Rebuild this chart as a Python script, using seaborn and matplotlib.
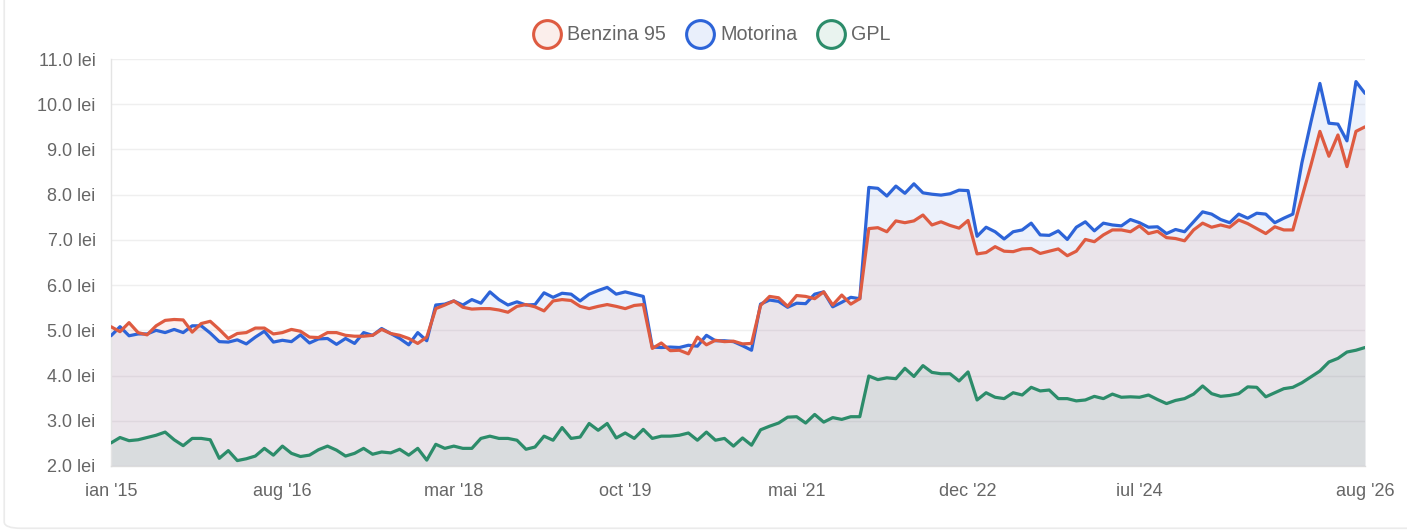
import numpy as np
import pandas as pd
import matplotlib
matplotlib.use("Agg")
import matplotlib.pyplot as plt
from matplotlib.lines import Line2D
from matplotlib.colors import to_rgba
from matplotlib.patches import FancyBboxPatch
import seaborn as sns

# luni in romana, pentru etichetele axei x
luni = ['ian', 'feb', 'mar', 'apr', 'mai', 'iun', 'iul', 'aug', 'sep', 'oct', 'noi', 'dec']

# pret mediu lunar (lei / litru), ian 2015 - aug 2026
benzina = [5.08, 4.97, 5.17, 4.95, 4.90, 5.10, 5.22, 5.24, 5.23, 4.96, 5.15, 5.20, 5.02, 4.82, 4.93, 4.95, 5.05, 5.05, 4.92, 4.95, 5.02, 4.98, 4.85, 4.84,
           4.95, 4.95, 4.89, 4.87, 4.87, 4.89, 5.02, 4.93, 4.89, 4.82, 4.71, 4.85, 5.48, 5.56, 5.65, 5.51, 5.47, 5.48, 5.48, 5.45, 5.40, 5.53, 5.57,
           5.52, 5.43, 5.65, 5.68, 5.66, 5.53, 5.48, 5.53, 5.57, 5.53, 5.48, 5.55, 5.57, 4.60, 4.72, 4.55, 4.56, 4.48, 4.85, 4.68, 4.78, 4.75, 4.76, 4.70,
           4.71, 5.55, 5.75, 5.72, 5.53, 5.77, 5.75, 5.70, 5.85, 5.56, 5.78, 5.58, 5.70, 7.25, 7.27, 7.18, 7.42, 7.38, 7.42, 7.55, 7.33, 7.40, 7.32,
           7.26, 7.43, 6.69, 6.72, 6.85, 6.75, 6.74, 6.80, 6.81, 6.70, 6.75, 6.80, 6.65, 6.75, 7.01, 6.96, 7.11, 7.22, 7.22, 7.18, 7.31, 7.14, 7.19,
           7.05, 7.03, 6.98, 7.22, 7.37, 7.28, 7.33, 7.28, 7.44, 7.36, 7.25, 7.14, 7.29, 7.22, 7.22, 7.94, 8.65, 9.40, 8.85, 9.32, 8.62, 9.40, 9.50]

motorina = [4.88, 5.08, 4.88, 4.92, 4.92, 5.00, 4.95, 5.02, 4.95, 5.10, 5.10, 4.94, 4.75, 4.74, 4.79, 4.70, 4.85, 4.98, 4.74, 4.78, 4.75, 4.90, 4.72, 4.81,
            4.82, 4.69, 4.82, 4.71, 4.95, 4.89, 5.04, 4.93, 4.82, 4.68, 4.95, 4.77, 5.56, 5.58, 5.65, 5.56, 5.68, 5.60, 5.85, 5.68, 5.56, 5.63, 5.56,
            5.57, 5.83, 5.73, 5.82, 5.80, 5.65, 5.80, 5.88, 5.95, 5.80, 5.85, 5.80, 5.75, 4.63, 4.62, 4.63, 4.62, 4.67, 4.65, 4.89, 4.77, 4.77, 4.75, 4.66,
            4.56, 5.58, 5.67, 5.64, 5.51, 5.60, 5.59, 5.80, 5.85, 5.52, 5.62, 5.73, 5.70, 8.16, 8.14, 7.97, 8.19, 8.03, 8.24, 8.04, 8.01, 7.99, 8.02,
            8.10, 8.09, 7.08, 7.28, 7.18, 7.02, 7.18, 7.22, 7.37, 7.11, 7.10, 7.20, 7.01, 7.28, 7.40, 7.20, 7.37, 7.33, 7.31, 7.45, 7.38, 7.28, 7.29,
            7.14, 7.23, 7.18, 7.40, 7.62, 7.57, 7.45, 7.38, 7.57, 7.48, 7.59, 7.57, 7.38, 7.48, 7.57, 8.70, 9.60, 10.46, 9.58, 9.56, 9.19, 10.50, 10.24]

gpl = [2.51, 2.63, 2.56, 2.58, 2.63, 2.68, 2.75, 2.58, 2.45, 2.61, 2.61, 2.58, 2.17, 2.34, 2.12, 2.16, 2.22, 2.39, 2.24, 2.44, 2.28, 2.21, 2.24, 2.36,
       2.44, 2.35, 2.22, 2.28, 2.39, 2.26, 2.31, 2.29, 2.37, 2.24, 2.39, 2.13, 2.48, 2.39, 2.44, 2.39, 2.39, 2.61, 2.66, 2.61, 2.61, 2.57, 2.37,
       2.42, 2.66, 2.57, 2.85, 2.61, 2.64, 2.94, 2.79, 2.94, 2.62, 2.73, 2.61, 2.81, 2.61, 2.66, 2.66, 2.68, 2.73, 2.57, 2.75, 2.57, 2.61, 2.44, 2.62,
       2.46, 2.80, 2.88, 2.95, 3.08, 3.09, 2.95, 3.14, 2.97, 3.07, 3.03, 3.09, 3.09, 3.99, 3.91, 3.95, 3.93, 4.16, 3.98, 4.22, 4.07, 4.04, 4.04,
       3.88, 4.08, 3.46, 3.62, 3.52, 3.49, 3.62, 3.57, 3.74, 3.66, 3.68, 3.49, 3.49, 3.44, 3.46, 3.54, 3.49, 3.59, 3.52, 3.53, 3.52, 3.57, 3.47,
       3.38, 3.45, 3.49, 3.59, 3.77, 3.60, 3.54, 3.56, 3.60, 3.75, 3.74, 3.53, 3.62, 3.71, 3.74, 3.84, 3.97, 4.10, 4.30, 4.38, 4.52, 4.56, 4.62]

n = len(benzina)
df = pd.DataFrame({'luna': np.arange(n), 'Benzina 95': benzina, 'Motorina': motorina, 'GPL': gpl})
etichete = [f"{luni[i % 12]} '{15 + i // 12}" for i in range(n)]
# chart.js autoskip: o eticheta la 19 luni + ultima
tick_idx = list(range(0, n - 19, 19)) + [n - 1]

culori = {'Benzina 95': '#de5b41', 'Motorina': '#2d64d8', 'GPL': '#2c8c6a'}
text_col = '#666666'

sns.set_theme(style='white')
plt.rcParams['font.family'] = ['Liberation Sans', 'DejaVu Sans']

fig = plt.figure(figsize=(14.07, 5.32), dpi=100)
ax = fig.add_axes([111 / 1407, 1 - 466 / 532, (1365 - 111) / 1407, (466 - 59) / 532])

# marginea cardului (se vede doar stanga / jos)
fig.patches.append(FancyBboxPatch((0.003, 0.007), 1.2, 1.2, boxstyle='round,pad=0,rounding_size=0.012',
                                  transform=fig.transFigure, facecolor='none', edgecolor='#ebebeb', linewidth=1.2))

for serie in ['Motorina', 'Benzina 95', 'GPL']:
    ax.fill_between(df['luna'], df[serie], 2, color=culori[serie], alpha=0.085, linewidth=0)
for serie, z in [('Motorina', 3), ('GPL', 4), ('Benzina 95', 5)]:
    sns.lineplot(data=df, x='luna', y=serie, color=culori[serie], linewidth=2.3, ax=ax,
                 legend=False, solid_joinstyle='round', zorder=z)

ax.set_xlim(0, n - 1)
ax.set_ylim(2, 11)
ax.set_yticks(np.arange(2, 11.5, 1))
ax.set_yticklabels([f'{v:.1f} lei' for v in np.arange(2, 11.5, 1)])
ax.set_xticks(tick_idx)
ax.set_xticklabels([etichete[i] for i in tick_idx])
ax.set_xlabel('')
ax.set_ylabel('')

ax.grid(axis='y', color='#efefef', linewidth=1)
ax.grid(axis='x', visible=False)
ax.set_axisbelow(True)
for s in ['top', 'right']:
    ax.spines[s].set_visible(False)
ax.spines['left'].set_color('#e4e4e4')
ax.spines['bottom'].set_color('#dcdcdc')
ax.spines['left'].set_linewidth(1)
ax.spines['bottom'].set_linewidth(1)

ax.tick_params(axis='y', length=7, width=1, color='#e8e8e8', pad=4, labelsize=13, labelcolor=text_col)
ax.tick_params(axis='x', length=0, pad=12, labelsize=13, labelcolor=text_col)

handles = [Line2D([], [], linestyle='none', marker='o', markersize=20,
                  markerfacecolor=to_rgba(culori[s], 0.1), markeredgecolor=culori[s], markeredgewidth=2.2)
           for s in ['Benzina 95', 'Motorina', 'GPL']]
leg = fig.legend(handles, ['Benzina 95', 'Motorina', 'GPL'], loc='center', bbox_to_anchor=(0.5055, 1 - 35 / 532),
                 ncol=3, frameon=False, fontsize=14.2, handletextpad=0.28, columnspacing=0.95, handlelength=1.5)
for t in leg.get_texts():
    t.set_color(text_col)

fig.savefig('out.png', dpi=100, facecolor='white')
